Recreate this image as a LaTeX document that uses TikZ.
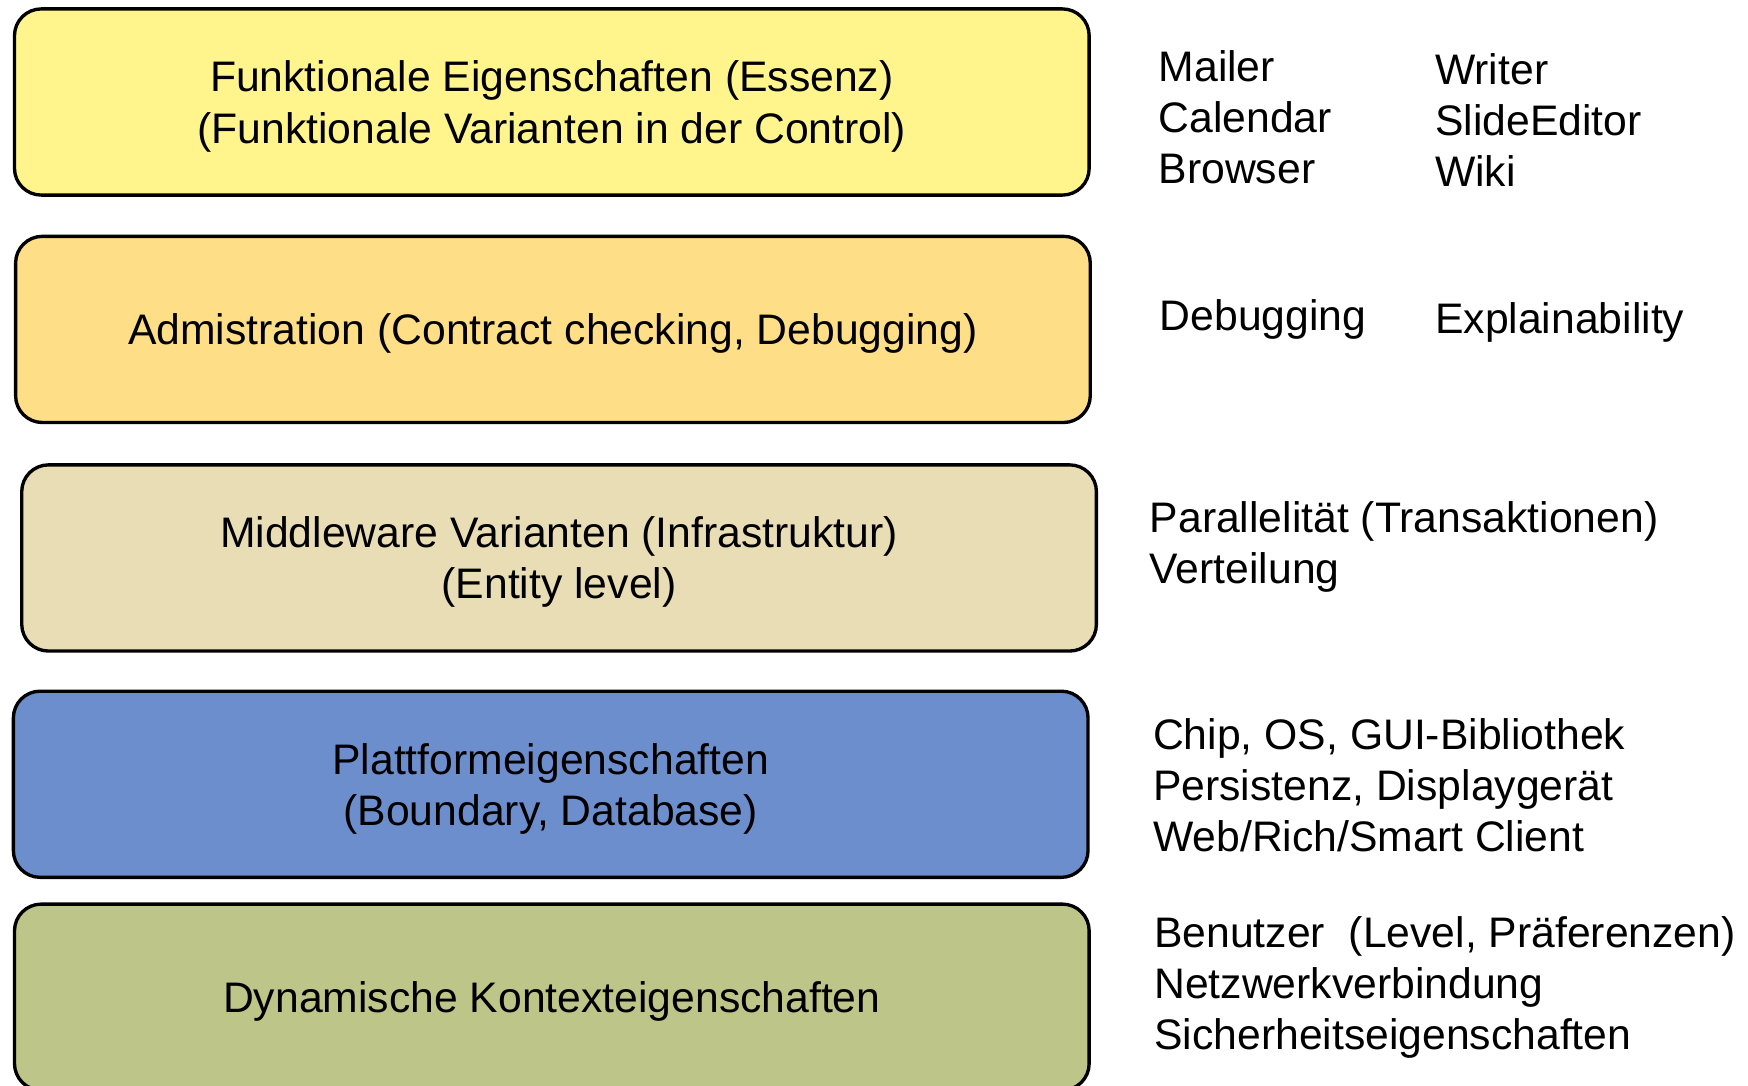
\documentclass[tikz,border=0pt]{standalone}
\usepackage{fontspec}
\setmainfont{Liberation Sans}
\usepackage[HTML]{xcolor}
\usetikzlibrary{positioning}

\definecolor{essenz}{HTML}{FFF58C}
\definecolor{admin}{HTML}{FFDE88}
\definecolor{middle}{HTML}{E9DDB5}
\definecolor{platt}{HTML}{6D8ECC}
\definecolor{kontext}{HTML}{BDC588}

\begin{document}
\begin{tikzpicture}[x=0.5pt,y=-0.5pt,
  layer/.style={draw,line width=1.5pt,rounded corners=12pt,minimum width=482pt,minimum height=83.5pt,align=center,inner sep=0pt,text depth=0pt},
  info/.style={anchor=west,align=left,inner sep=0pt}]
\useasboundingbox (0,0) rectangle (1568,974);
\fontsize{19.15}{22.9}\selectfont

% Schichten
\node[layer,fill=essenz] (F) at (495,91.5) {Funktionale Eigenschaften (Essenz)\\(Funktionale Varianten in der Control)};
\node[layer,fill=admin] (A) at (496,295.5) {Admistration (Contract checking, Debugging)};
\node[layer,fill=middle] (M) at (501.5,500.5) {Middleware Varianten (Infrastruktur)\\(Entity level)};
\node[layer,fill=platt] (P) at (494,703.5) {Plattformeigenschaften\\(Boundary, Database)};
\node[layer,fill=kontext] (K) at (495,894.5) {Dynamische Kontexteigenschaften};

% Beispiele
\node[info] (F1) at (1039,105) {Mailer\\Calendar\\Browser};
\node[info] (F2) at (1287,108) {Writer\\SlideEditor\\Wiki};
\node[info] (A1) at (1040,287) {Debugging};
\node[info] (A2) at (1287,289) {Explainability};
\node[info] (M1) at (1031,491) {Parallelit\"at (Transaktionen)\\Verteilung};
\node[info] (P1) at (1034,704) {Chip, OS, GUI-Bibliothek\\Persistenz, Displayger\"at\\Web/Rich/Smart Client};
\node[info] (K1) at (1035,886) {Benutzer~ (Level, Pr\"aferenzen)\\Netzwerkverbindung\\Sicherheitseigenschaften};
\end{tikzpicture}
\end{document}
